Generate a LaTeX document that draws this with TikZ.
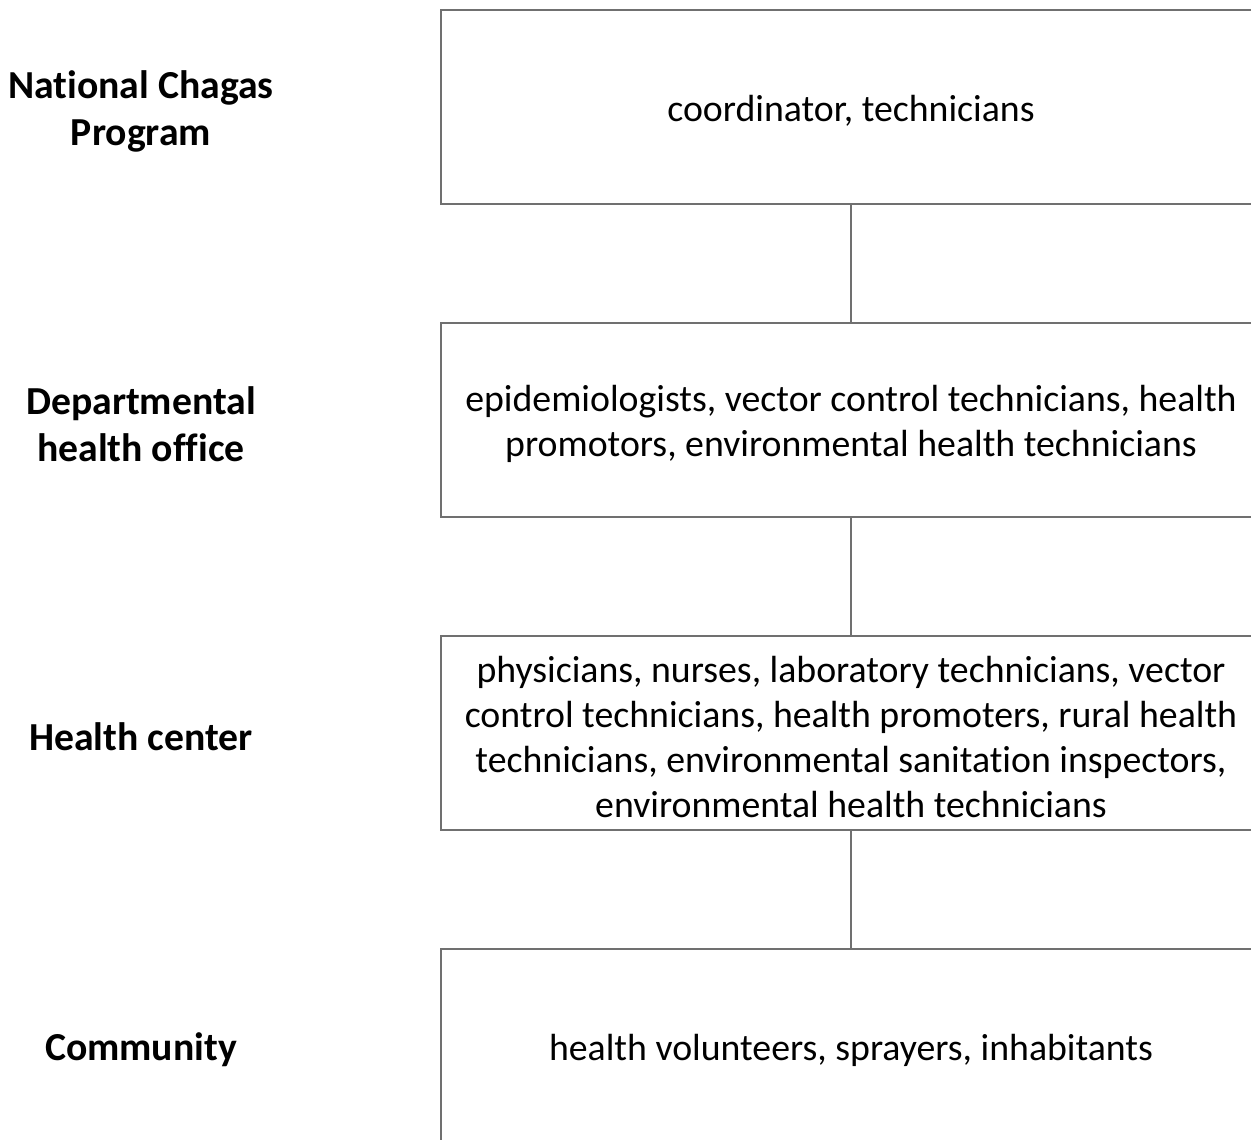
\documentclass[tikz,border=0pt]{standalone}
\usepackage{fontspec}
\setmainfont{Carlito}[Ligatures=NoCommon]
\definecolor{boxline}{HTML}{707070}
\tikzset{
  levelbox/.style={draw=boxline, line width=1.3pt, rectangle, minimum width=820pt, minimum height=194pt, inner sep=0pt},
  boxtext/.style={align=center, inner sep=0pt, yshift=-4pt, font=\fontsize{37.8}{45}\selectfont},
  levellabel/.style={align=center, inner sep=0pt, yshift=-4pt, font=\fontsize{39.7}{47}\selectfont\bfseries},
  link/.style={draw=boxline, line width=1.3pt}
}
\begin{document}
\begin{tikzpicture}[x=1pt,y=-1pt]
\useasboundingbox (0,0) rectangle (1251,1140);
\clip (0,0) rectangle (1251,1140);
\fill[white] (0,0) rectangle (1251,1140);
\node[levelbox] (b1) at (851,107) {};
\node[levelbox] (b2) at (851,420) {};
\node[levelbox] (b3) at (851,733) {};
\node[levelbox] (b4) at (851,1046) {};
\node[boxtext] (t1) at (b1.center) {coordinator, technicians};
\node[boxtext] (t2) at (b2.center) {epidemiologists, vector control technicians, health\\promotors, environmental health technicians};
\node[boxtext] (t3) at (b3.center) {physicians, nurses, laboratory technicians, vector\\control technicians, health promoters, rural health\\technicians, environmental sanitation inspectors,\\environmental health technicians};
\node[boxtext] (t4) at (b4.center) {health volunteers, sprayers, inhabitants};
\node[levellabel] (l1) at (141,107) {National Chagas\\Program};
\node[levellabel] (l2) at (141,420) {Departmental\\health office};
\node[levellabel] (l3) at (141,733) {Health center};
\node[levellabel] (l4) at (141,1046) {Community};
\draw[link] (b1.south) -- (b2.north);
\draw[link] (b2.south) -- (b3.north);
\draw[link] (b3.south) -- (b4.north);
\end{tikzpicture}
\end{document}
